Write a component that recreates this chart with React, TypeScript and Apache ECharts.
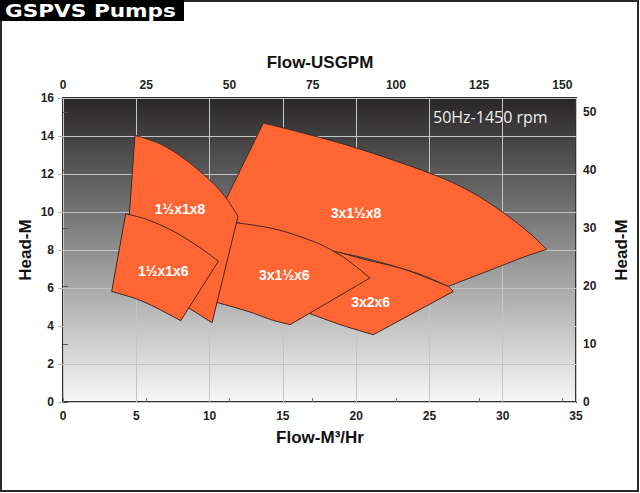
import React, { useEffect, useRef } from "react";
import * as echarts from "echarts";

// Flow in m³/h (bottom axis), head in m (left axis)
const flowMax = 35;
const headMax = 16;
const usgpmMax = 154.1; // 35 m³/h in USGPM
const feetMax = 52.49; // 16 m in feet

const pumpNames = ["3x2x6", "3x1½x8", "3x1½x6", "1½x1x8", "1½x1x6"];

const outline3x2x6 = [
  [16.85, 8.03], [18.44, 7.94], [20.6, 7.5], [22.99, 7.06], [24.8, 6.55],
  [26.29, 6.09], [26.63, 5.82], [21.17, 3.54], [19.0, 4.05], [16.85, 4.65],
  [16.17, 5.39],
];
const outline3x1h8 = [
  [13.67, 14.68], [16.17, 14.2], [20.06, 13.36], [25.04, 12.04], [27.77, 11.09],
  [30.02, 9.98], [31.86, 8.87], [33.0, 8.03],
  [31.4, 7.62], [29.81, 7.14], [26.29, 6.09], [24.6, 6.65], [22.99, 7.06],
  [20.7, 7.55], [18.44, 7.94], [14.8, 8.55], [11.39, 9.61], [10.71, 10.03],
];
const outline3x1h6 = [
  [11.6, 9.5], [11.85, 9.43], [13.4, 9.26], [15.03, 8.99], [17.31, 8.38],
  [18.44, 7.94], [19.36, 7.5], [20.95, 6.53], [15.49, 4.07], [14.2, 4.33],
  [12.98, 4.68], [11.7, 4.98], [10.49, 5.24], [10.17, 5.28],
];
const outline1h1x8 = [
  [4.91, 14.04], [6.62, 13.59], [8.32, 12.78], [9.96, 11.72], [11.05, 10.82],
  [11.94, 9.77], [10.17, 4.17], [8.66, 4.91], [6.62, 5.91], [4.5, 9.61],
];
const outline1h1x6 = [
  [4.28, 9.91], [5.71, 9.61], [7.53, 8.99], [9.35, 8.12], [10.6, 7.41],
  [8.03, 4.28], [6.39, 4.95], [5.03, 5.42], [3.32, 5.82],
];
const outlines = [outline3x2x6, outline3x1h8, outline3x1h6, outline1h1x8, outline1h1x6];
// indices of sharp corners in each outline (edges between them are curved)
const cornerIndices = [
  [0, 5, 6, 7, 9, 10],
  [0, 7, 10, 14, 15, 16, 17],
  [0, 1, 7, 8, 12, 13],
  [0, 5, 6, 7, 8, 9],
  [0, 4, 5, 8],
];
const labelPositions = [
  [20.99, 5.24], [19.99, 9.93], [15.1, 6.71], [7.98, 10.14], [6.84, 6.88],
];

const tickFont = {
  fontFamily: "Liberation Sans",
  fontWeight: "bold" as const,
  fontSize: 12,
  color: "#222",
};

function buildPath(pts: number[][], corners: number[]): string {
  const n = pts.length;
  const f = (v: number) => v.toFixed(2);
  let d = `M${f(pts[corners[0]][0])},${f(pts[corners[0]][1])}`;
  for (let k = 0; k < corners.length; k++) {
    const a = corners[k];
    const b = k + 1 < corners.length ? corners[k + 1] : n + corners[0];
    const seg: number[][] = [];
    for (let i = a; i <= b; i++) seg.push(pts[i % n]);
    if (seg.length === 2) {
      d += ` L${f(seg[1][0])},${f(seg[1][1])}`;
    } else {
      for (let i = 0; i < seg.length - 1; i++) {
        const p0 = seg[Math.max(0, i - 1)];
        const p1 = seg[i];
        const p2 = seg[i + 1];
        const p3 = seg[Math.min(seg.length - 1, i + 2)];
        const c1x = p1[0] + (p2[0] - p0[0]) / 6;
        const c1y = p1[1] + (p2[1] - p0[1]) / 6;
        const c2x = p2[0] - (p3[0] - p1[0]) / 6;
        const c2y = p2[1] - (p3[1] - p1[1]) / 6;
        d += ` C${f(c1x)},${f(c1y)} ${f(c2x)},${f(c2y)} ${f(p2[0])},${f(p2[1])}`;
      }
    }
  }
  return d + " Z";
}

export default function App() {
  const ref = useRef<HTMLDivElement>(null);
  useEffect(() => {
    if (!ref.current) return;
    const chart = echarts.init(ref.current, undefined, { renderer: "svg" });
    chart.setOption({
      animation: false,
      backgroundColor: "#fff",
      grid: {
        left: 63,
        right: 64,
        top: 98,
        bottom: 91,
        show: true,
        borderColor: "#333",
        borderWidth: 2,
        backgroundColor: new echarts.graphic.LinearGradient(0, 0, 0, 1, [
          { offset: 0, color: "#282626" },
          { offset: 1, color: "#f7f7f7" },
        ]),
      },
      xAxis: [
        {
          type: "value",
          position: "bottom",
          min: 0,
          max: flowMax,
          interval: 5,
          axisLine: { show: false },
          axisTick: { show: false },
          axisLabel: { ...tickFont, margin: 8 },
          splitLine: { show: true, lineStyle: { color: "#c4c4c4", width: 1 } },
        },
        {
          type: "value",
          position: "top",
          min: 0,
          max: usgpmMax,
          interval: 25,
          axisLine: { show: false },
          axisTick: { show: true, length: 4, lineStyle: { color: "#777" } },
          axisLabel: { ...tickFont, margin: 7, showMaxLabel: false },
          splitLine: { show: false },
        },
      ],
      yAxis: [
        {
          type: "value",
          position: "left",
          min: 0,
          max: headMax,
          interval: 2,
          axisLine: { show: false },
          axisTick: { show: true, length: 5, lineStyle: { color: "#bbb" } },
          axisLabel: { ...tickFont, margin: 9 },
          splitLine: { show: true, lineStyle: { color: "#c4c4c4", width: 1 } },
        },
        {
          type: "value",
          position: "right",
          min: 0,
          max: feetMax,
          interval: 10,
          axisLine: { show: false },
          axisTick: { show: true, length: 5, lineStyle: { color: "#555" } },
          axisLabel: { ...tickFont, margin: 7, showMaxLabel: false },
          splitLine: { show: false },
        },
      ],
      series: pumpNames.map((name, i) => ({
        type: "custom",
        name,
        xAxisIndex: 0,
        yAxisIndex: 0,
        z: 2 + i,
        data: [labelPositions[i]],
        renderItem: (_params: any, api: any) => {
          const pts = outlines[i].map((p) => api.coord(p));
          const c = api.coord(labelPositions[i]);
          return {
            type: "group",
            children: [
              {
                type: "path",
                shape: { pathData: buildPath(pts, cornerIndices[i]) },
                style: { fill: "#FF6633", stroke: "#3a2a22", lineWidth: 1 },
              },
              {
                type: "text",
                x: c[0],
                y: c[1],
                style: {
                  text: name,
                  fill: "#fff",
                  font: 'bold 14px "Liberation Sans"',
                  align: "center",
                  verticalAlign: "middle",
                },
              },
            ],
          };
        },
      })),
      graphic: [
        {
          type: "rect",
          shape: { x: 1, y: 1, width: 637, height: 490 },
          style: { fill: "none", stroke: "#2a2a2a", lineWidth: 2 },
          silent: true,
        },
        {
          type: "rect",
          shape: { x: 0, y: 0, width: 184, height: 21 },
          style: { fill: "#000" },
        },
        {
          type: "text",
          x: 5,
          y: 11,
          scaleX: 1.2,
          style: {
            text: "GSPVS Pumps",
            fill: "#fff",
            font: 'bold 18px "DejaVu Sans"',
            verticalAlign: "middle",
          },
        },
        {
          type: "text",
          x: 320,
          y: 62,
          style: {
            text: "Flow-USGPM",
            fill: "#111",
            font: 'bold 17px "Liberation Sans"',
            align: "center",
            verticalAlign: "middle",
          },
        },
        {
          type: "text",
          x: 320,
          y: 437,
          style: {
            text: "Flow-M³/Hr",
            fill: "#111",
            font: 'bold 17px "Liberation Sans"',
            align: "center",
            verticalAlign: "middle",
          },
        },
        {
          type: "text",
          x: 25,
          y: 250,
          rotation: Math.PI / 2,
          style: {
            text: "Head-M",
            fill: "#111",
            font: 'bold 17px "Liberation Sans"',
            align: "center",
            verticalAlign: "middle",
          },
        },
        {
          type: "text",
          x: 621,
          y: 250,
          rotation: Math.PI / 2,
          style: {
            text: "Head-M",
            fill: "#111",
            font: 'bold 17px "Liberation Sans"',
            align: "center",
            verticalAlign: "middle",
          },
        },
        {
          type: "text",
          x: 433,
          y: 117,
          z: 20,
          style: {
            text: "50Hz-1450 rpm",
            fill: "#eeeeee",
            font: '16px "Open Sans"',
            verticalAlign: "middle",
          },
        },
      ],
    });
    return () => chart.dispose();
  }, []);
  return (
    <div
      ref={ref}
      style={{ position: "absolute", left: 0, top: 0, width: 640, height: 493 }}
    />
  );
}
